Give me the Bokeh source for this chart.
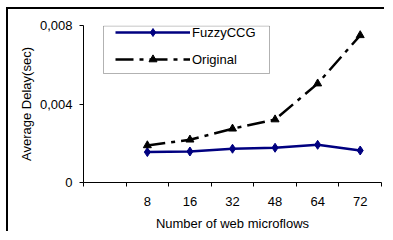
from bokeh.plotting import figure
from bokeh.models import (Range1d, FixedTicker, Legend, LegendItem, BoxAnnotation,
                          ColumnDataSource)
from bokeh.embed import file_html
from bokeh.resources import INLINE

# ---- data ----
categories = ["8", "16", "32", "48", "64", "72"]
fuzzyccg = [0.00155, 0.00158, 0.00172, 0.00177, 0.00192, 0.00163]
original = [0.00189, 0.00218, 0.00274, 0.00321, 0.00504, 0.00750]
y_ticks = [0, 0.004, 0.008]
y_tick_labels = ["0", "0,004", "0,008"]
series_names = ["FuzzyCCG", "Original"]
x_title = "Number of web microflows"
y_title = "Average Delay(sec)"

FONT = "Liberation Sans"
FS = "13px"

# category slots: a blank leading slot, as in the original chart
slots = [""] + categories
xpos = [slots.index(c) for c in categories]
src = ColumnDataSource(dict(x=xpos, cat=categories, fuzzy=fuzzyccg, orig=original))

p = figure(width=378, height=224,
           x_range=Range1d(-0.5, len(slots) - 0.5),
           y_range=Range1d(y_ticks[0], y_ticks[-1]),
           output_backend="svg", toolbar_location=None,
           min_border_left=75, min_border_right=5,
           min_border_top=16, min_border_bottom=51)
# chart-area border: only its left and top edges are visible in the reference
p.styles = {"margin-left": "8px", "margin-top": "9px",
            "box-shadow": "-2px -2px 0px 0px black"}
p.outline_line_color = None
p.grid.visible = False
p.background_fill_color = "white"
p.border_fill_color = "white"

# x axis: ticks at slot boundaries, labels at slot centres
xa = p.xaxis[0]
xa.ticker = FixedTicker(ticks=xpos,
                        minor_ticks=[i - 0.5 for i in range(len(slots) + 1)])
xa.major_label_overrides = {x: c for x, c in zip(xpos, categories)}
xa.major_tick_line_color = None
xa.major_tick_in = 0
xa.major_tick_out = 0
xa.minor_tick_in = 0
xa.minor_tick_out = 4
xa.minor_tick_line_color = "black"
xa.axis_line_color = "black"
xa.major_label_standoff = 10
xa.axis_label = x_title
xa.axis_label_standoff = 7

ya = p.yaxis[0]
ya.ticker = FixedTicker(ticks=y_ticks, minor_ticks=[])
ya.major_label_overrides = {t: l for t, l in zip(y_ticks, y_tick_labels)}
ya.major_tick_in = 0
ya.major_tick_out = 4
ya.major_tick_line_color = "black"
ya.minor_tick_line_color = None
ya.axis_line_color = "black"
ya.major_label_standoff = 7
ya.axis_label = y_title
ya.axis_label_standoff = 3

for ax in (xa, ya):
    ax.major_label_text_font = FONT
    ax.major_label_text_font_size = FS
    ax.major_label_text_color = "black"
    ax.axis_label_text_font = FONT
    ax.axis_label_text_font_size = FS
    ax.axis_label_text_font_style = "normal"
    ax.axis_label_text_color = "black"

# series
l1 = p.line("x", "fuzzy", source=src, line_color="#000080", line_width=2.5)
m1 = p.scatter("x", "fuzzy", source=src, marker="diamond", size=9,
               fill_color="#000080", line_color="#000080")
l2 = p.line("x", "orig", source=src, line_color="black", line_width=2.5,
            line_dash="18 6 4 6")
m2 = p.scatter("x", "orig", source=src, marker="triangle", size=8,
               fill_color="black", line_color="black")

legend = Legend(items=[LegendItem(label=series_names[0], renderers=[l1, m1]),
                       LegendItem(label=series_names[1], renderers=[l2, m2])],
                location=(32, 113), padding=0, margin=0,
                border_line_alpha=0, background_fill_alpha=0,
                glyph_width=75, glyph_height=20, label_height=20,
                spacing=7, label_standoff=2,
                label_text_font=FONT, label_text_font_size=FS,
                label_text_color="black")
p.add_layout(legend)

# legend frame (top edge kept on the plot-frame top so it is not clipped)
p.add_layout(BoxAnnotation(left=95, right=261, top=16.5, bottom=64,
                           left_units="canvas", right_units="canvas",
                           top_units="canvas", bottom_units="canvas",
                           fill_alpha=0, line_color="black", line_width=1))

open("out.html", "w").write(file_html(p, INLINE))
